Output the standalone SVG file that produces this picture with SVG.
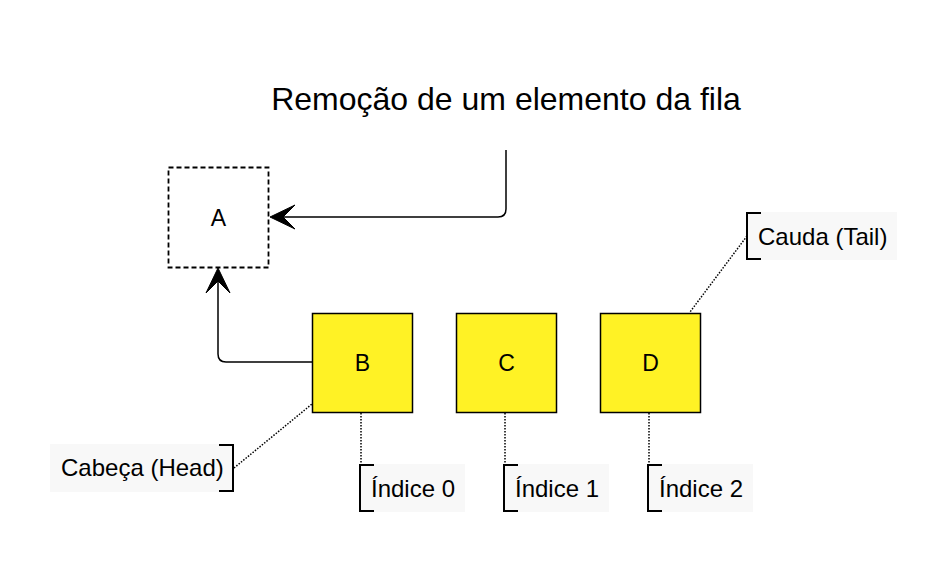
<svg xmlns="http://www.w3.org/2000/svg" width="947" height="563" viewBox="0 0 947 563">
<style>
text{font-family:"Liberation Sans",Arial,sans-serif;fill:#000}
.node{fill:#fff225;stroke:#000;stroke-width:1.5}
.lbl{font-size:24px}
.nl{font-size:23px;text-anchor:middle}
.bg{fill:#f8f8f8;stroke:none}
.br{fill:none;stroke:#000;stroke-width:2}
.dot{fill:none;stroke:#000;stroke-width:1.5;stroke-dasharray:1.5 1.5}
.edge{fill:none;stroke:#000;stroke-width:1.5}
.ah{fill:#000;stroke:#000;stroke-width:1}
</style>
<rect width="947" height="563" fill="#fff"/>
<text id="title" x="506" y="110" font-size="32" text-anchor="middle">Remoção de um elemento da fila</text>
<g id="connectors">
<path class="edge" d="M506,150 V209 Q506,217 498,217 H284"/>
<path class="ah" d="M270,217 L295,205 L283,217 L295,229 Z"/>
<path class="edge" d="M312,362 H226 Q218,362 218,354 V282"/>
<path class="ah" d="M218,268 L230,293 L218,281 L206,293 Z"/>
<path class="dot" d="M234,468 L312,404"/>
<path class="dot" d="M361,413 V464"/>
<path class="dot" d="M505,413 V464"/>
<path class="dot" d="M649,413 V464"/>
<path class="dot" d="M747,236 L690,312"/>
</g>
<g id="nodeA">
<rect x="168.5" y="167.5" width="100" height="100" fill="#fff" stroke="#000" stroke-width="1.8" stroke-dasharray="5 3"/>
<text class="nl" x="218.5" y="226">A</text>
</g>
<g id="nodeB">
<rect class="node" x="312.5" y="313.5" width="100" height="99"/>
<text class="nl" x="362.5" y="371">B</text>
</g>
<g id="nodeC">
<rect class="node" x="456.5" y="313.5" width="100" height="99"/>
<text class="nl" x="506.5" y="371">C</text>
</g>
<g id="nodeD">
<rect class="node" x="600.5" y="313.5" width="100" height="99"/>
<text class="nl" x="650.5" y="371">D</text>
</g>
<g id="head">
<rect class="bg" x="50" y="444" width="184" height="48"/>
<path class="br" d="M219,445 H233 V491 H219"/>
<text class="lbl" x="61" y="476">Cabeça (Head)</text>
</g>
<g id="idx0">
<rect class="bg" x="360" y="464" width="105" height="48"/>
<path class="br" d="M374,465 H360 V511 H374"/>
<text class="lbl" x="371" y="497">Índice 0</text>
</g>
<g id="idx1">
<rect class="bg" x="504" y="464" width="105" height="48"/>
<path class="br" d="M518,465 H504 V511 H518"/>
<text class="lbl" x="515" y="497">Índice 1</text>
</g>
<g id="idx2">
<rect class="bg" x="648" y="464" width="105" height="48"/>
<path class="br" d="M662,465 H648 V511 H662"/>
<text class="lbl" x="659" y="497">Índice 2</text>
</g>
<g id="tail">
<rect class="bg" x="747" y="212" width="150" height="48"/>
<path class="br" d="M761,213 H747 V259 H761"/>
<text class="lbl" x="758" y="245">Cauda (Tail)</text>
</g>
</svg>
